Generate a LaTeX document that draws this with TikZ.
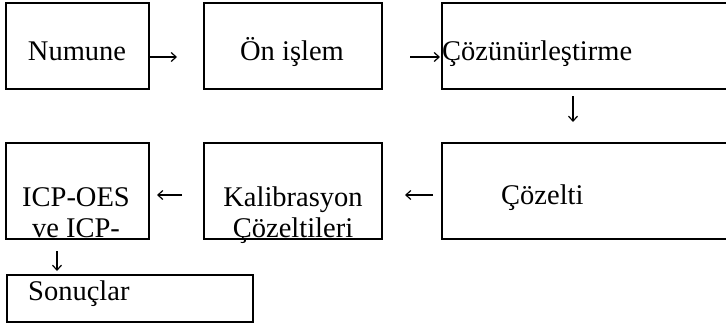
\documentclass[tikz,border=0pt]{standalone}
\usepackage{fontspec}
\setmainfont{Liberation Serif}
\usetikzlibrary{arrows.meta}
\begin{document}
\begin{tikzpicture}[x=1pt,y=-1pt,
  box/.style={draw, line width=2.4pt, inner sep=0pt, anchor=north west},
  txt/.style={inner sep=0pt, font=\fontsize{28.5}{33}\selectfont},
  arr/.style={line width=1.2pt, -{Straight Barb[length=5pt,width=9pt]}}]
\useasboundingbox (0,0) rectangle (726,324);
\clip (0,0) rectangle (726,324);
% boxes
\node[box, minimum width=143pt, minimum height=86pt] (b1) at (5,2) {};
\node[box, minimum width=178pt, minimum height=86pt] (b2) at (203,2) {};
\node[box, minimum width=290pt, minimum height=86pt] (b3) at (441,2) {};
\node[box, minimum width=143pt, minimum height=96pt] (b4) at (5,142) {};
\node[box, minimum width=178pt, minimum height=96pt] (b5) at (203,142) {};
\node[box, minimum width=290pt, minimum height=96pt] (b6) at (441,142) {};
\node[box, minimum width=246pt, minimum height=47pt] (b7) at (6,274) {};
% texts
\node[txt, anchor=base] (t1) at (77,60) {Numune};
\node[txt, anchor=base] (t2) at (292,60) {Ön işlem};
\node[txt, anchor=base west] (t3) at (442,60) {Çözünürleştirme};
\node[txt, anchor=base] (t4a) at (76,206) {ICP-OES};
\node[txt, anchor=base] (t4b) at (76,237) {ve ICP-};
\node[txt, anchor=base] (t5a) at (293,206) {Kalibrasyon};
\node[txt, anchor=base] (t5b) at (293,237) {Çözeltileri};
\node[txt, anchor=base west] (t6) at (501,204) {Çözelti};
\node[txt, anchor=base west] (t7) at (28,300) {Sonuçlar};
% arrow ends
\coordinate (a1s) at (150,57); \coordinate (a1e) at (177,57);
\coordinate (a2s) at (410,57); \coordinate (a2e) at (440,57);
\coordinate (a3s) at (573,96); \coordinate (a3e) at (573,122);
\coordinate (a4s) at (433,195); \coordinate (a4e) at (405,195);
\coordinate (a5s) at (182,195); \coordinate (a5e) at (157,195);
\coordinate (a6s) at (57,251); \coordinate (a6e) at (57,271);
\draw[arr] (a1s) -- (a1e);
\draw[arr] (a2s) -- (a2e);
\draw[arr] (a3s) -- (a3e);
\draw[arr] (a4s) -- (a4e);
\draw[arr] (a5s) -- (a5e);
\draw[arr] (a6s) -- (a6e);
\end{tikzpicture}
\end{document}
